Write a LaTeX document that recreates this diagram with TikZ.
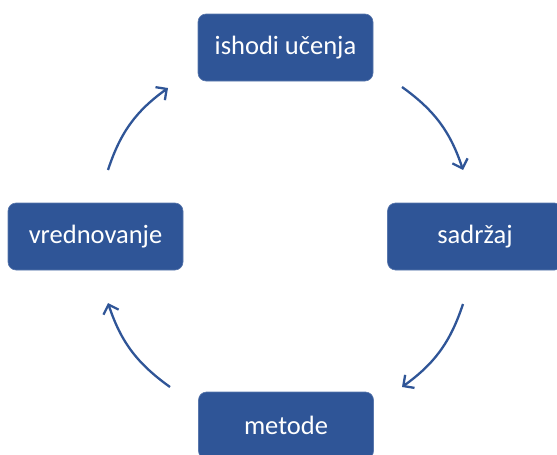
\documentclass[tikz,border=0pt]{standalone}
\usepackage{fontspec}
\setmainfont{Carlito}
\usetikzlibrary{arrows.meta}
\definecolor{boxblue}{HTML}{2F5597}
\begin{document}
\begin{tikzpicture}[x=1pt,y=1pt,
  stepbox/.style={draw=boxblue!80!white, line width=0.6pt, fill=boxblue, rounded corners=8pt,
    minimum width=175pt, minimum height=67pt, inner sep=0pt, text=white, font=\fontsize{26.5}{30}\selectfont},
  cyc/.style={draw=boxblue, line width=2.3pt, -{Straight Barb[length=8pt,width=16pt,line width=2.3pt]}}]
\useasboundingbox (0,0) rectangle (557,-455);
\begin{scope}
\clip (0,0) rectangle (557,-455);
\node[stepbox] (ish) at (285.5,-47.5) {ishodi učenja};
\node[stepbox] (sad) at (475,-236.5) {sadržaj};
\node[stepbox] (met) at (286,-425.5) {metode};
\node[stepbox] (vre) at (95.5,-236.5) {vrednovanje};
\end{scope}
\coordinate (a1s) at (402,-87);
\coordinate (a1e) at (463,-170);
\coordinate (a2s) at (463,-304);
\coordinate (a2e) at (402,-387);
\coordinate (a3s) at (170,-387);
\coordinate (a3e) at (108,-303);
\coordinate (a4s) at (108,-170);
\coordinate (a4e) at (168,-88);
\draw[cyc] (a1s) to[bend left=18] (a1e);
\draw[cyc] (a2s) to[bend left=18] (a2e);
\draw[cyc] (a3s) to[bend left=18] (a3e);
\draw[cyc] (a4s) to[bend left=18] (a4e);
\end{tikzpicture}
\end{document}
